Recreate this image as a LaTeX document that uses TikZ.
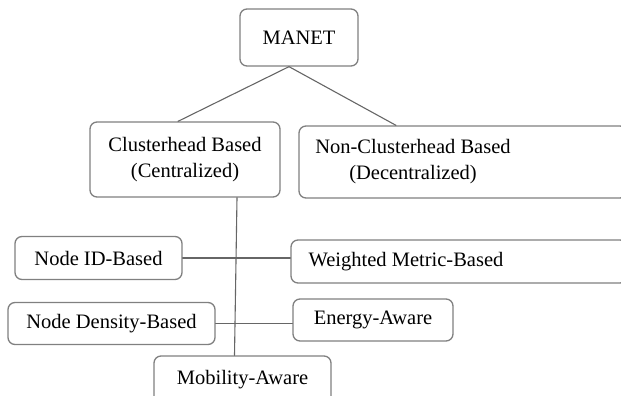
\documentclass[tikz,border=0pt]{standalone}
\usepackage{fontspec}
\setmainfont{Liberation Serif}
\begin{document}
\begin{tikzpicture}[x=1pt, y=-1pt, line join=round, line cap=round,
    font=\fontsize{20.5}{26}\selectfont,
    box/.style={draw=black!50, line width=1.3pt, rounded corners=7pt, inner sep=0pt, text=black},
    txt/.style={align=center, inner sep=0pt, text=black},
    link/.style={draw=black!60, line width=1.1pt}]
    \useasboundingbox (0,0) rectangle (621,396);
    \node[box, minimum width=118, minimum height=57] (mnt) at (299,37.5) {MANET};
    \node[box, align=center, minimum width=190, minimum height=75] (clh) at (185,159.5) {Clusterhead Based\\(Centralized)};
    \node[box, minimum width=328, minimum height=72] (nonch) at (463,162) {};
    \node[txt] (nonchtxt) at (413,162) {Non-Clusterhead Based\\(Decentralized)};
    \node[box, minimum width=336, minimum height=43] (wmb) at (459,261.5) {};
    \node[txt] (wmbtxt) at (406,262) {Weighted Metric-Based};
    \foreach \n/\p/\w/\h/\t in {nid/{98.5,258}/167/43/Node ID-Based,
        nden/{111.5,323.5}/207/42/Node Density-Based,
        ene/{373,320}/160/42/Energy-Aware,
        mob/{242.5,380}/177/48/Mobility-Aware}
    \node[box, minimum width=\w, minimum height=\h] (\n) at (\p) {\t};
    % tree links
    \draw[link] ([xshift=-10]mnt.south)--([xshift=-7]clh.north)
        ([xshift=-10]mnt.south)--([xshift=-67]nonch.north);
    \draw[link] ([xshift=52]clh.south)--([xshift=-8]mob.north);
    \draw[link] (nid.east)--(nid.east -| wmb.west) (nden.east)--(nden.east -| ene.west);
\end{tikzpicture}
\end{document}
